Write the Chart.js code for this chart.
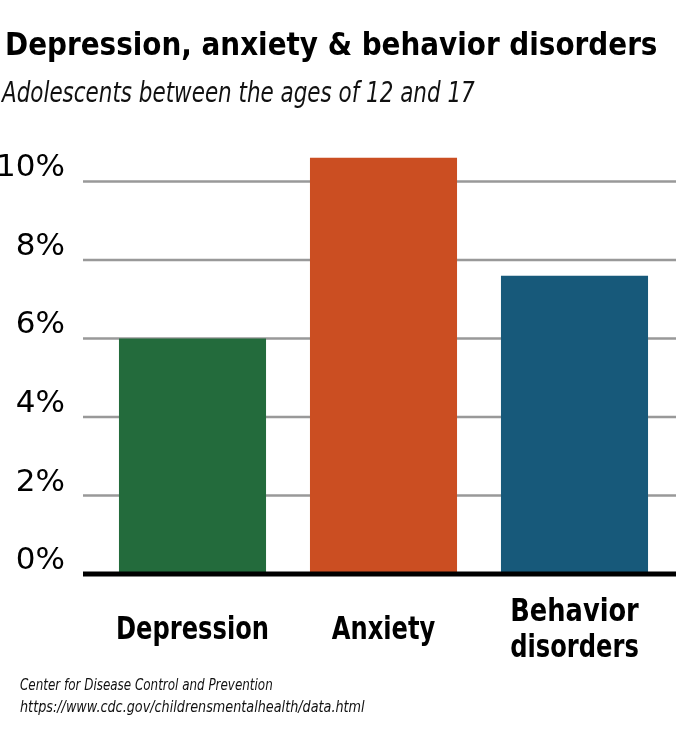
<!DOCTYPE html>
<html>
<head>
<meta charset="utf-8">
<script src="https://cdn.jsdelivr.net/npm/chart.js@4.4.1/dist/chart.umd.min.js"></script>
<style>
  html, body { margin: 0; padding: 0; background: #fff; }
  body { width: 682px; height: 734px; position: relative; overflow: hidden; }
  #chart { position: absolute; left: 0; top: 0; }
  .txt { position: absolute; white-space: nowrap; color: #000; line-height: 1;
         font-family: "DejaVu Sans Condensed", "DejaVu Sans", sans-serif; transform-origin: 0 0; }
  #title { left: 5px; top: 28px; font-size: 32px; font-weight: bold; }
  #subtitle { left: 2px; top: 79px; font-size: 28px; font-style: italic; color: #111; }
  .src { left: 20px; font-size: 16px; font-style: italic; color: #111; }
</style>
</head>
<body>
<canvas id="chart" width="682" height="734"></canvas>
<div id="title" class="txt" data-w="652">Depression, anxiety &amp; behavior disorders</div>
<div id="subtitle" class="txt" data-w="473">Adolescents between the ages of 12 and 17</div>
<div class="txt src" style="top:677px" data-w="253">Center for Disease Control and Prevention</div>
<div class="txt src" style="top:699px" data-w="345">https://www.cdc.gov/childrensmentalhealth/data.html</div>
<script>
// Chart data
const categories = ['Depression', 'Anxiety', ['Behavior', 'disorders']];
const percentages = [6.0, 10.6, 7.6];
const barColors = ['#236b3c', '#cb4e22', '#17597a'];
const yTicks = [0, 2, 4, 6, 8, 10];

// the original uses a very condensed face, so squeeze text to its width
document.querySelectorAll('.txt').forEach(el => {
    el.style.transform = 'scaleX(' + (el.dataset.w / el.offsetWidth) + ')';
});

const labelSquash = 0.84;

const gridPlugin = {
    id: 'extendedGrid',
    beforeDraw(chart) {
        // squeeze the category labels horizontally through fillText's maxWidth
        const scale = chart.scales.x;
        const ctx = chart.ctx;
        ctx.save();
        ctx.font = scale._resolveTickFontOptions(0).string;
        scale.getLabelItems().forEach(item => {
            const lines = Array.isArray(item.label) ? item.label : [item.label];
            const w = Math.max(...lines.map(l => ctx.measureText(l).width));
            item.options.maxWidth = w * labelSquash;
        });
        ctx.restore();
    },
    beforeDatasetsDraw(chart) {
        const { ctx, chartArea, scales } = chart;
        ctx.save();
        ctx.strokeStyle = '#999999';
        ctx.lineWidth = 2.5;
        yTicks.forEach(v => {
            if (v === 0) return;
            const y = scales.y.getPixelForValue(v);
            ctx.beginPath();
            ctx.moveTo(chartArea.left - 14, y);
            ctx.lineTo(chartArea.right + 6, y);
            ctx.stroke();
        });
        ctx.restore();
    },
    afterDatasetsDraw(chart) {
        const { ctx, chartArea, scales } = chart;
        const y = scales.y.getPixelForValue(0);
        ctx.save();
        ctx.strokeStyle = '#000';
        ctx.lineWidth = 5;
        ctx.beginPath();
        ctx.moveTo(chartArea.left - 14, y);
        ctx.lineTo(chartArea.right + 6, y);
        ctx.stroke();
        ctx.restore();
    }
};

new Chart(document.getElementById('chart'), {
    type: 'bar',
    data: {
        labels: categories,
        datasets: [{
            data: percentages,
            backgroundColor: barColors,
            borderWidth: 0,
            categoryPercentage: 1,
            barPercentage: 0.77
        }]
    },
    options: {
        responsive: false,
        animation: false,
        layout: { padding: { top: 150, right: 12, bottom: 0, left: 0 } },
        plugins: {
            legend: { display: false },
            tooltip: { enabled: false }
        },
        scales: {
            x: {
                grid: { display: false, drawTicks: false },
                border: { display: false },
                ticks: {
                    color: '#000',
                    padding: 39,
                    autoSkip: false,
                    crossAlign: 'center',
                    maxRotation: 0,
                    font: { family: '"DejaVu Sans Condensed", "DejaVu Sans", sans-serif', size: 32, weight: 'bold', lineHeight: 1.125 }
                },
                afterFit(scale) {
                    scale.height = 160;
                    scale.paddingLeft = 0;
                    scale.paddingRight = 0;
                }
            },
            y: {
                min: 0,
                max: 10.8,
                grid: { display: false, drawTicks: false },
                border: { display: false },
                afterBuildTicks(scale) { scale.ticks = yTicks.map(v => ({ value: v })); },
                ticks: {
                    color: '#000',
                    padding: 32,
                    labelOffset: -13,
                    font: { family: '"DejaVu Sans", sans-serif', size: 31 },
                    callback: v => v + '%'
                },
                afterFit(scale) {
                    scale.width = 97;
                    scale.paddingTop = 0;
                    scale.paddingBottom = 0;
                }
            }
        }
    },
    plugins: [gridPlugin]
});
</script>
</body>
</html>
